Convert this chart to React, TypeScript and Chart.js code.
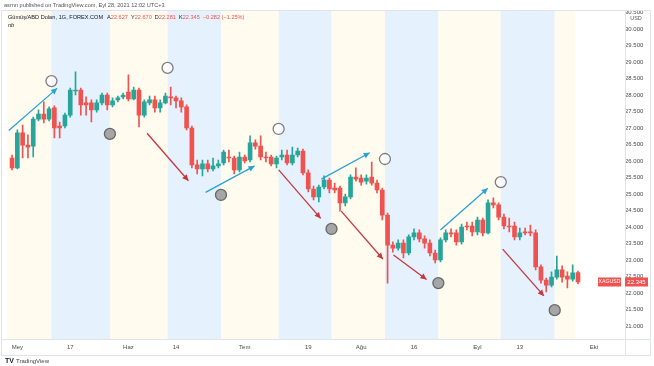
import React, { useEffect, useRef } from "react";
import { Chart, registerables } from "chart.js";
Chart.register(...registerables);

// Daily candles, XAG/USD, 30 Apr 2021 .. 28 Sep 2021 (index = trading day)
const opens = [
  26.10, 25.80, 26.86, 26.49, 26.46, 27.28, 27.43, 27.28, 27.62, 27.07,
  27.07, 27.40, 28.13, 28.16, 27.77, 27.77, 27.56, 27.77, 28.01, 27.71,
  27.86, 27.95, 28.10, 27.89, 28.16, 27.40, 27.77, 27.86, 27.62, 27.77,
  27.95, 27.92, 27.83, 27.65, 27.01, 25.89, 25.77, 25.92, 25.77, 25.86,
  25.95, 26.13, 26.10, 25.74, 26.13, 26.04, 26.56, 26.46, 26.13, 26.13,
  25.92, 26.13, 26.19, 25.95, 26.19, 26.31, 25.65, 25.16, 24.92, 25.22,
  25.43, 25.19, 25.19, 24.74, 24.92, 25.52, 25.49, 25.40, 25.52, 25.34,
  25.13, 24.37, 23.46, 23.37, 23.52, 23.22, 23.71, 23.83, 23.65, 23.52,
  23.22, 23.01, 23.62, 23.83, 23.83, 23.56, 24.04, 24.04, 23.86, 24.22,
  23.83, 24.74, 24.68, 24.31, 24.04, 24.04, 23.71, 23.86, 23.86, 23.83,
  22.80, 22.40, 22.25, 22.49, 22.71, 22.52, 22.43, 22.627,
];
const highs = [
  26.19, 26.95, 27.10, 26.80, 27.34, 27.56, 27.80, 27.65, 27.68, 27.19,
  27.46, 28.22, 28.71, 28.22, 27.95, 27.86, 27.86, 28.07, 28.07, 27.92,
  27.98, 28.07, 28.62, 28.25, 28.22, 27.86, 27.98, 27.98, 27.86, 28.07,
  28.25, 27.98, 27.92, 27.71, 27.07, 26.04, 26.04, 26.04, 26.10, 26.04,
  26.34, 26.34, 26.16, 26.28, 26.19, 26.77, 26.65, 26.77, 26.28, 26.19,
  26.16, 26.34, 26.34, 26.43, 26.40, 26.37, 25.74, 25.25, 25.28, 25.56,
  25.49, 25.34, 25.25, 25.01, 25.59, 25.80, 25.59, 25.59, 25.98, 25.43,
  25.19, 24.43, 23.56, 23.62, 23.62, 23.77, 23.95, 23.92, 23.74, 23.62,
  23.31, 23.68, 23.92, 23.95, 23.92, 24.10, 24.16, 24.16, 24.31, 24.28,
  24.83, 24.89, 24.74, 24.40, 24.28, 24.16, 23.98, 23.98, 24.07, 23.92,
  22.86, 22.46, 22.65, 23.13, 22.83, 22.65, 22.86, 22.670,
];
const lows = [
  25.74, 25.77, 26.10, 26.10, 26.13, 27.22, 27.16, 27.22, 26.71, 26.71,
  27.01, 27.34, 28.01, 27.40, 27.40, 27.19, 27.49, 27.71, 27.56, 27.65,
  27.80, 27.89, 27.83, 27.86, 27.04, 27.34, 27.71, 27.49, 27.49, 27.74,
  27.71, 27.62, 27.49, 26.95, 25.80, 25.62, 25.56, 25.68, 25.71, 25.80,
  25.89, 25.98, 25.62, 25.68, 25.95, 25.98, 26.37, 26.04, 25.98, 25.86,
  25.80, 26.04, 25.89, 25.89, 26.13, 25.59, 25.07, 24.83, 24.77, 25.16,
  25.04, 25.04, 24.49, 24.65, 24.86, 25.40, 25.28, 25.31, 25.28, 25.04,
  24.22, 22.31, 23.25, 23.31, 23.07, 23.16, 23.62, 23.56, 23.37, 23.13,
  22.92, 22.95, 23.56, 23.71, 23.46, 23.49, 23.92, 23.74, 23.77, 23.74,
  23.80, 24.59, 24.22, 23.95, 23.86, 23.62, 23.62, 23.77, 23.74, 22.71,
  22.31, 22.04, 22.19, 22.43, 22.34, 22.16, 22.37, 22.281,
];
const closes = [
  25.80, 26.86, 26.49, 26.43, 27.28, 27.43, 27.28, 27.59, 27.01, 27.01,
  27.40, 28.16, 28.16, 27.71, 27.71, 27.56, 27.77, 28.01, 27.71, 27.83,
  27.92, 28.01, 27.89, 28.16, 27.40, 27.80, 27.86, 27.62, 27.77, 27.98,
  27.92, 27.83, 27.65, 27.01, 25.89, 25.77, 25.92, 25.77, 25.86, 25.92,
  26.28, 26.10, 25.74, 26.13, 26.01, 26.56, 26.46, 26.13, 26.10, 25.92,
  26.10, 26.19, 25.95, 26.19, 26.31, 25.65, 25.16, 24.92, 25.22, 25.43,
  25.16, 25.13, 24.74, 24.92, 25.52, 25.46, 25.37, 25.49, 25.34, 25.13,
  24.37, 23.46, 23.37, 23.52, 23.22, 23.71, 23.83, 23.65, 23.52, 23.22,
  23.01, 23.62, 23.83, 23.80, 23.56, 24.01, 24.01, 23.86, 24.22, 23.83,
  24.74, 24.68, 24.31, 24.04, 24.01, 23.71, 23.83, 23.83, 23.83, 22.80,
  22.40, 22.25, 22.49, 22.71, 22.49, 22.43, 22.62, 22.345,
];

// Time axis
const xTickPos = [1, 11, 22, 31, 44, 56, 66, 76, 88, 96, 110];
const xTickLabels = ["Mey", "17", "Haz", "14", "Tem", "19", "Ağu", "16", "Eyl", "13", "Eki"];
const xMin = -0.994;
const xMax = 115.89;

// Price axis
const priceTicks = [21, 21.5, 22, 22.5, 23, 23.5, 24, 24.5, 25, 25.5, 26, 26.5, 27, 27.5, 28, 28.5, 29, 29.5, 30, 30.5];
const yMin = 20.615;
const yMax = 30.585;

// Drawings (x in bar index, y in price)
const hollowX = [7.45, 29.4, 50.4, 70.5, 92.4];
const hollowY = [28.43, 28.83, 26.98, 26.07, 25.37];
const filledX = [18.5, 39.5, 60.4, 80.6, 102.6];
const filledY = [26.83, 24.98, 23.95, 22.31, 21.49];
const upArrows = [
  [-0.62, 26.93, 8.52, 28.21],
  [36.59, 25.06, 45.85, 25.86],
  [58.48, 25.46, 67.62, 26.26],
  [80.99, 23.92, 89.94, 25.18],
];
const downArrows = [
  [25.52, 26.85, 33.34, 25.41],
  [50.41, 25.74, 58.35, 24.27],
  [62.23, 24.49, 70.11, 23.04],
  [72.12, 23.16, 78.37, 22.42],
  [92.76, 23.34, 100.56, 21.92],
];
const bandEdges = [-1.5, 7.45, 18.5, 29.4, 39.5, 50.4, 60.4, 70.5, 80.6, 92.4, 102.6, 106.5];

const UP = "#26a69a";
const DOWN = "#ef5350";
const FONT = "'Liberation Sans', Arial, sans-serif";

const bandPlugin = {
  id: "bands",
  beforeDatasetsDraw(chart: any) {
    const { ctx, chartArea, scales } = chart;
    const xs = scales.x;
    ctx.save();
    for (let i = 0; i < bandEdges.length - 1; i++) {
      const x0 = Math.max(chartArea.left, xs.getPixelForValue(bandEdges[i]));
      const x1 = Math.min(chartArea.right, xs.getPixelForValue(bandEdges[i + 1]));
      ctx.fillStyle = i % 2 === 0 ? "#fffbef" : "#e5f1fd";
      ctx.fillRect(x0, chartArea.top, x1 - x0, chartArea.bottom - chartArea.top);
    }
    ctx.restore();
  },
};

const arrowPlugin = {
  id: "arrowheads",
  afterDatasetsDraw(chart: any) {
    const ctx = chart.ctx;
    chart.data.datasets.forEach((ds: any, i: number) => {
      if (!ds.arrow) return;
      const meta = chart.getDatasetMeta(i);
      const p0 = meta.data[0];
      const p1 = meta.data[1];
      const a = Math.atan2(p1.y - p0.y, p1.x - p0.x);
      const L = 6, W = 3;
      ctx.save();
      ctx.fillStyle = ds.borderColor;
      ctx.beginPath();
      ctx.moveTo(p1.x, p1.y);
      ctx.lineTo(p1.x - L * Math.cos(a) + W * Math.sin(a), p1.y - L * Math.sin(a) - W * Math.cos(a));
      ctx.lineTo(p1.x - L * Math.cos(a) - W * Math.sin(a), p1.y - L * Math.sin(a) + W * Math.cos(a));
      ctx.closePath();
      ctx.fill();
      ctx.restore();
    });
  },
};

const decorPlugin = {
  id: "decor",
  afterDraw(chart: any) {
    const { ctx, chartArea, scales } = chart;
    const ys = scales.y;
    ctx.save();
    // frame
    ctx.strokeStyle = "#e0e3eb";
    ctx.lineWidth = 1;
    ctx.beginPath();
    ctx.moveTo(1.5, chartArea.top + 0.5);
    ctx.lineTo(650.5, chartArea.top + 0.5);
    ctx.lineTo(650.5, 355.5);
    ctx.lineTo(1.5, 355.5);
    ctx.closePath();
    ctx.moveTo(1.5, chartArea.bottom + 0.5);
    ctx.lineTo(650.5, chartArea.bottom + 0.5);
    ctx.moveTo(chartArea.right + 0.5, chartArea.top);
    ctx.lineTo(chartArea.right + 0.5, 355.5);
    ctx.stroke();

    // header
    ctx.textBaseline = "middle";
    ctx.textAlign = "left";
    ctx.font = `5.6px ${FONT}`;
    ctx.fillStyle = "#555";
    ctx.fillText("asrnn published on TradingView.com, Eyl 28, 2021 12:02 UTC+3", 4, 5);

    // legend
    ctx.font = `5.6px ${FONT}`;
    let x = 8;
    const y = 17;
    const put = (t: string, c: string, gap = 0) => {
      ctx.fillStyle = c;
      ctx.fillText(t, x, y);
      x += ctx.measureText(t).width + gap;
    };
    put("Gümüş/ABD Doları, 1G, FOREX.COM", "#131722", 4);
    put("A", "#131722");
    put("22.627", DOWN, 3);
    put("Y", "#131722");
    put("22.670", DOWN, 3);
    put("D", "#131722");
    put("22.281", DOWN, 3);
    put("K", "#131722");
    put("22.345", DOWN, 3);
    put("−0.282 (−1.25%)", DOWN);
    ctx.fillStyle = "#131722";
    ctx.font = `italic 5.6px ${FONT}`;
    ctx.fillText("nb", 8, 25);

    // "USD" under top price label
    ctx.font = `5.5px ${FONT}`;
    ctx.fillStyle = "#555";
    ctx.textAlign = "center";
    ctx.fillText("USD", chartArea.right + 11, 18);

    // last price labels
    const last = closes[closes.length - 1];
    const py = Math.round(ys.getPixelForValue(last));
    ctx.fillStyle = DOWN;
    ctx.fillRect(598, py - 4.5, 23, 9);
    ctx.fillRect(chartArea.right + 0, py - 4.5, 23, 9);
    ctx.fillStyle = "#fff";
    ctx.font = `5.2px ${FONT}`;
    ctx.fillText("XAGUSD", 609.5, py);
    ctx.font = `6px ${FONT}`;
    ctx.fillText(last.toFixed(3), chartArea.right + 11.5, py);

    // logo
    ctx.textAlign = "left";
    ctx.fillStyle = "#131722";
    ctx.font = `bold 7px ${FONT}`;
    ctx.fillText("TV", 5, 361);
    ctx.font = `6px ${FONT}`;
    ctx.fillStyle = "#444";
    ctx.fillText("TradingView", 16, 361);
    ctx.restore();
  },
};

export default function App() {
  const ref = useRef<HTMLCanvasElement>(null);
  useEffect(() => {
    const canvas = ref.current;
    if (!canvas) return;
    const colors = closes.map((c, i) => (c >= opens[i] ? UP : DOWN));
    const wickData = closes.map((_, i) => ({ x: i, y: [lows[i], highs[i]] }));
    const bodyData = closes.map((c, i) => ({ x: i, y: [opens[i], c] }));

    const datasets: any[] = [
      {
        type: "bar",
        data: wickData,
        backgroundColor: colors,
        barThickness: 1,
        grouped: false,
        order: 4,
      },
      {
        type: "bar",
        data: bodyData,
        backgroundColor: colors,
        barThickness: 4,
        minBarLength: 1,
        grouped: false,
        order: 3,
      },
    ];
    upArrows.forEach((a) =>
      datasets.push({
        type: "line",
        data: [{ x: a[0], y: a[1] }, { x: a[2], y: a[3] }],
        borderColor: "#29a3d6",
        borderWidth: 1.3,
        pointRadius: 0,
        arrow: true,
        order: 2,
      })
    );
    downArrows.forEach((a) =>
      datasets.push({
        type: "line",
        data: [{ x: a[0], y: a[1] }, { x: a[2], y: a[3] }],
        borderColor: "#c8373e",
        borderWidth: 1.3,
        pointRadius: 0,
        arrow: true,
        order: 2,
      })
    );
    datasets.push({
      type: "line",
      showLine: false,
      data: hollowX.map((x, i) => ({ x, y: hollowY[i] })),
      pointRadius: 5.5,
      pointBorderWidth: 1.3,
      pointBackgroundColor: "rgba(255,255,255,0.6)",
      pointBorderColor: "#7e7e7e",
      order: 1,
    });
    datasets.push({
      type: "line",
      showLine: false,
      data: filledX.map((x, i) => ({ x, y: filledY[i] })),
      pointRadius: 5.5,
      pointBorderWidth: 1.3,
      pointBackgroundColor: "#a6a6a6",
      pointBorderColor: "#676767",
      order: 0,
    });

    const chart = new Chart(canvas, {
      type: "bar",
      data: { datasets },
      plugins: [bandPlugin, arrowPlugin, decorPlugin],
      options: {
        responsive: false,
        animation: false,
        devicePixelRatio: 1,
        layout: { padding: { top: 10, bottom: 11, left: 2, right: 4 } },
        plugins: { legend: { display: false }, tooltip: { enabled: false } },
        scales: {
          x: {
            type: "linear",
            min: xMin,
            max: xMax,
            offset: false,
            grid: { display: false, drawTicks: false },
            border: { display: false },
            afterBuildTicks: (s: any) => {
              s.ticks = xTickPos.map((v) => ({ value: v }));
            },
            afterFit: (s: any) => {
              s.height = 16;
            },
            ticks: {
              autoSkip: false,
              maxRotation: 0,
              padding: 5,
              color: "#4a4a4a",
              font: { size: 6, family: FONT },
              callback: (v: any) => {
                const i = xTickPos.indexOf(Number(v));
                return i >= 0 ? xTickLabels[i] : "";
              },
            },
          },
          y: {
            type: "linear",
            position: "right",
            min: yMin,
            max: yMax,
            grid: { display: false, drawTicks: false },
            border: { display: false },
            afterBuildTicks: (s: any) => {
              s.ticks = priceTicks.map((v) => ({ value: v }));
            },
            afterFit: (s: any) => {
              s.width = 25;
            },
            ticks: {
              padding: 0,
              crossAlign: "center",
              color: "#4a4a4a",
              font: { size: 6, family: FONT },
              callback: (v: any) => Number(v).toFixed(3),
            },
          },
        },
      } as any,
    });
    return () => chart.destroy();
  }, []);
  return (
    <div style={{ position: "fixed", left: 0, top: 0, width: 654, height: 366, background: "#fff" }}>
      <canvas ref={ref} width={654} height={366} style={{ display: "block", width: 654, height: 366 }} />
    </div>
  );
}
